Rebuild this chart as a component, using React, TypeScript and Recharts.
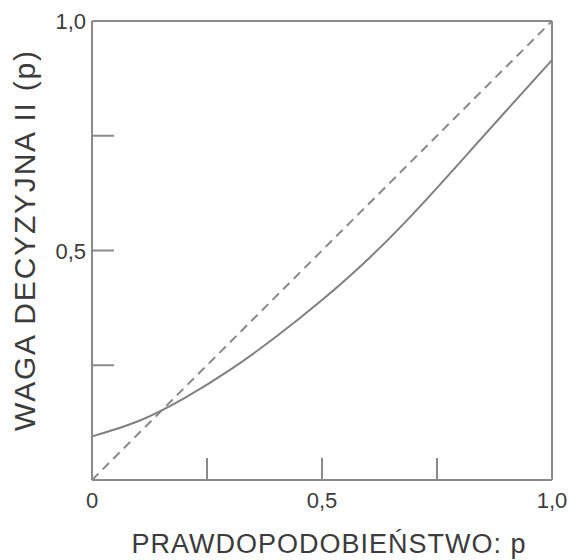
import React from 'react';
import { ComposedChart, Line, XAxis, YAxis, ReferenceLine } from 'recharts';

const probabilities = [0, 0.1, 0.2, 0.3, 0.4, 0.5, 0.6, 0.7, 0.8, 0.9, 1.0];
const decisionWeights = [0.095, 0.128, 0.178, 0.24, 0.312, 0.392, 0.481, 0.582, 0.692, 0.804, 0.915];

const diagonalP = [0, 1];
const diagonalW = [0, 1];

const allTicks = [0, 0.25, 0.5, 0.75, 1];
const innerTicks = [0.25, 0.5, 0.75];
const xLabelTicks = [0, 0.5, 1];
const xTickLabels = ['0', '0,5', '1,0'];
const yLabelTicks = [0.5, 1];
const yTickLabels = ['0,5', '1,0'];

const xTitle = 'PRAWDOPODOBIEŃSTWO: p';
const yTitle = 'WAGA DECYZYJNA II (p)';

const curveData = probabilities.map((p, i) => ({ p, w: decisionWeights[i] }));
const diagData = diagonalP.map((p, i) => ({ p, d: diagonalW[i] }));

const AXIS = '#8a8a8a';
const TEXT = '#3c3c3c';
const FONT = '"Liberation Sans", Arial, sans-serif';

const XTick = (props: any) => {
  const { x, y, payload } = props;
  const v = payload.value;
  const li = xLabelTicks.indexOf(v);
  return (
    <g>
      {innerTicks.includes(v) && (
        <line x1={x} y1={y} x2={x} y2={y - 22} stroke={AXIS} strokeWidth={2} />
      )}
      {li >= 0 && (
        <text x={x} y={y + 28} textAnchor="middle" fontSize={22} fill={TEXT} fontFamily={FONT}>
          {xTickLabels[li]}
        </text>
      )}
    </g>
  );
};

const YTick = (props: any) => {
  const { x, y, payload } = props;
  const v = payload.value;
  const li = yLabelTicks.indexOf(v);
  return (
    <g>
      {innerTicks.includes(v) && (
        <line x1={x} y1={y} x2={x + 22} y2={y} stroke={AXIS} strokeWidth={2} />
      )}
      {li >= 0 && (
        <text x={x - 6} y={y + 8} textAnchor="end" fontSize={22} fill={TEXT} fontFamily={FONT}>
          {yTickLabels[li]}
        </text>
      )}
    </g>
  );
};

const XTitle = () => (
  <text x={329} y={553} textAnchor="middle" fontSize={27} fill={TEXT} fontFamily={FONT} letterSpacing={1}>
    {xTitle}
  </text>
);

const YTitle = () => (
  <text
    x={35}
    y={240}
    transform="rotate(-90 35 240)"
    textAnchor="middle"
    fontSize={30}
    fill={TEXT}
    fontFamily={FONT}
    letterSpacing={1.8}
  >
    {yTitle}
  </text>
);

export default function App() {
  return (
    <div style={{ position: 'absolute', left: 0, top: 0, width: 569, height: 560, background: '#fff' }}>
      <ComposedChart
        width={569}
        height={560}
        data={curveData}
        margin={{ top: 21, right: 17, left: 0, bottom: 0 }}
      >
        <XAxis
          dataKey="p"
          type="number"
          domain={[0, 1]}
          ticks={allTicks}
          interval={0}
          height={80}
          tickSize={0}
          tickMargin={0}
          tickLine={false}
          axisLine={{ stroke: AXIS, strokeWidth: 2 }}
          tick={<XTick />}
          label={{ content: <XTitle /> }}
        />
        <YAxis
          type="number"
          domain={[0, 1]}
          ticks={allTicks}
          interval={0}
          width={92}
          tickSize={0}
          tickMargin={0}
          tickLine={false}
          axisLine={{ stroke: AXIS, strokeWidth: 2 }}
          tick={<YTick />}
          label={{ content: <YTitle /> }}
        />
        <ReferenceLine y={1} stroke={AXIS} strokeWidth={2} />
        <ReferenceLine x={1} stroke={AXIS} strokeWidth={2} />
        <Line
          data={diagData}
          dataKey="d"
          type="linear"
          stroke="#888"
          strokeWidth={2}
          strokeDasharray="9 6"
          dot={false}
          activeDot={false}
          isAnimationActive={false}
        />
        <Line
          dataKey="w"
          type="natural"
          stroke="#808080"
          strokeWidth={2}
          dot={false}
          activeDot={false}
          isAnimationActive={false}
        />
      </ComposedChart>
    </div>
  );
}
